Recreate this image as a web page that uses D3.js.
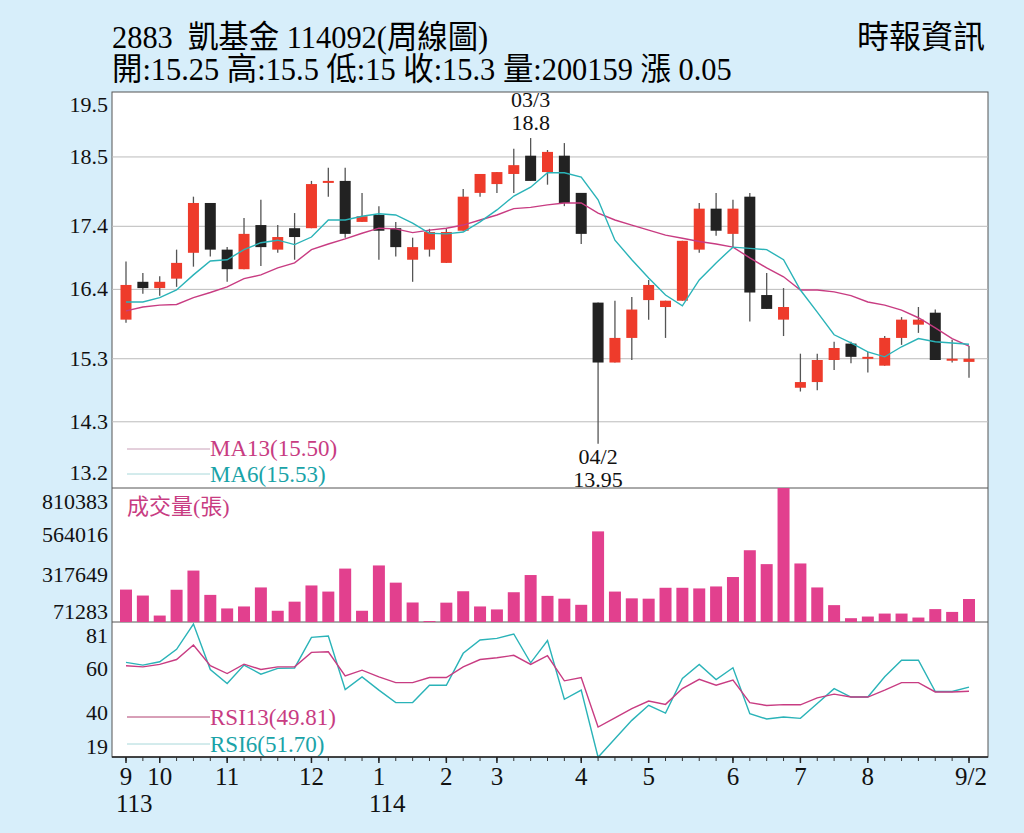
<!DOCTYPE html>
<html>
<head>
<meta charset="utf-8">
<script src="https://cdn.jsdelivr.net/npm/d3@7/dist/d3.min.js"></script>
<style>
  body { margin: 0; background: #d7eefa; }
  text { font-family: "Liberation Serif", "Noto Sans CJK TC", serif; }
</style>
</head>
<body>
<svg id="chart" width="1024" height="833"></svg>
<script>
// weekly candles: open, high, low, close
const opens  = [15.92,16.52,16.42,16.57,16.98,17.77,17.03,16.72,17.42,17.03,17.37,17.37,18.09,18.12,17.47,17.58,17.37,16.87,17.03,16.82,17.33,17.93,18.07,18.23,18.52,18.26,18.52,17.93,16.19,15.24,15.63,16.23,16.12,16.22,17.03,17.68,17.28,17.87,16.31,15.92,14.84,14.93,15.28,15.54,15.33,15.19,15.63,15.84,16.03,15.30,15.25]
const highs  = [16.84,16.66,16.61,17.03,17.87,17.77,17.07,17.53,17.82,17.42,17.61,18.12,18.33,18.33,17.93,17.72,17.47,17.22,17.36,17.36,17.99,18.23,18.26,18.63,18.80,18.61,18.72,17.93,16.19,16.22,16.28,16.55,16.22,17.17,17.77,17.93,17.82,17.93,16.66,16.42,15.38,15.38,15.57,15.57,15.41,15.66,15.96,16.12,16.08,15.60,15.50]
const lows   = [15.87,16.33,16.30,16.44,16.76,16.92,16.52,16.72,16.77,16.98,16.87,17.37,17.87,17.22,17.47,16.87,16.92,16.52,16.92,16.82,17.33,17.87,17.93,17.93,18.12,18.06,17.72,17.12,13.95,15.24,15.28,15.92,15.63,16.22,16.98,17.25,17.07,15.89,16.09,15.66,14.78,14.80,15.12,15.23,15.08,15.19,15.52,15.71,15.28,15.24,15.00]
const closes = [16.47,16.42,16.52,16.82,17.77,17.03,16.72,17.28,17.07,17.23,17.23,18.07,18.12,17.28,17.56,17.33,17.07,17.07,17.31,17.31,17.87,18.23,18.26,18.37,18.12,18.58,17.77,17.28,15.24,15.63,16.08,16.47,16.22,17.17,17.68,17.33,17.68,16.35,16.09,16.12,14.93,15.28,15.47,15.33,15.33,15.63,15.92,15.92,15.28,15.30,15.30]
const ma13 = [16.06,16.12,16.15,16.16,16.27,16.35,16.44,16.57,16.63,16.74,16.82,17.03,17.12,17.20,17.29,17.37,17.36,17.30,17.34,17.37,17.42,17.50,17.58,17.68,17.70,17.74,17.77,17.77,17.61,17.50,17.42,17.34,17.26,17.21,17.16,17.12,17.07,16.90,16.74,16.60,16.39,16.39,16.36,16.30,16.20,16.15,16.07,15.95,15.79,15.62,15.50]
const ma6  = [16.20,16.20,16.27,16.39,16.63,16.85,16.87,17.03,17.14,17.18,17.11,17.23,17.50,17.50,17.56,17.60,17.58,17.45,17.29,17.28,17.31,17.47,17.66,17.88,18.02,18.25,18.25,18.18,17.82,17.18,16.87,16.58,16.31,16.14,16.55,16.82,17.07,17.05,17.03,16.87,16.39,16.04,15.68,15.55,15.41,15.33,15.49,15.62,15.57,15.55,15.53]
const volumes = [196000,160000,39000,195000,311000,164000,82000,94000,209000,68000,123000,221000,184000,323000,68000,342000,238000,118000,6000,117000,186000,94000,76000,180000,284000,158000,141000,104000,548000,184000,143000,141000,207000,207000,203000,215000,272000,434000,350000,810383,354000,209000,102000,23000,33000,51000,51000,27000,78000,61000,139000]
const rsi13 = [61.3,60.8,61.9,64.1,70.6,61.3,57.8,62.0,59.6,60.8,60.8,67.3,67.6,56.7,59.3,56.3,53.7,53.7,56.0,56.0,60.8,64.1,64.9,66.0,61.9,65.8,54.5,56.0,33.7,37.8,42.0,45.4,43.9,51.0,55.2,52.5,54.8,44.7,43.4,43.8,43.7,46.8,48.5,47.2,47.2,50.3,53.7,53.7,49.5,49.5,49.81]
const rsi6  = [62.8,61.6,63.1,68.7,80.1,59.6,53.3,61.6,57.5,60.1,60.3,74.1,74.7,50.6,56.3,50.3,44.7,44.7,52.5,52.5,66.9,72.9,73.6,75.6,62.6,72.6,46.2,50.3,20.1,28.4,36.7,43.5,40.0,55.6,61.9,55.1,60.4,39.7,37.3,38.2,37.6,44.3,51.0,47.2,47.2,56.3,63.8,63.8,49.7,49.7,51.7]

const priceTicks = [18.5, 17.4, 16.4, 15.3, 14.3]
const priceEdgeLabels = ["19.5", "13.2"]
const volTicks = [810383, 564016, 317649, 71283]
const rsiTicks = [81, 60, 40, 19]
const monthLabels = [
  {i: 0, t: "9", y2: "113"}, {i: 2, t: "10"}, {i: 6, t: "11"}, {i: 11, t: "12"},
  {i: 15, t: "1", y2: "114"}, {i: 19, t: "2"}, {i: 22, t: "3"}, {i: 27, t: "4"},
  {i: 31, t: "5"}, {i: 36, t: "6"}, {i: 40, t: "7"}, {i: 44, t: "8"}, {i: 50, t: "9/2"}
]

const svg = d3.select("#chart")
const left = 112, right = 988
const red = "#ee3b2b", black = "#222", magenta = "#c83c82", cyan = "#2ab3b8"

const x = d3.scaleLinear().domain([0, 50]).range([126, 969])
const y = d3.scaleLinear().domain([13.25, 19.53]).range([488, 92])
const yv = d3.scaleLinear().domain([0, 810383]).range([622, 488])
const yr = d3.scaleLinear().domain([20.2, 81]).range([757, 622])

// title
svg.append("text").attr("x", 112).attr("y", 48).attr("font-size", 32)
  .attr("transform", "translate(112,0) scale(0.95,1) translate(-112,0)")
  .text("2883\u00a0\u00a0凱基金 114092(周線圖)")
svg.append("text").attr("x", 112).attr("y", 80).attr("font-size", 32)
  .attr("transform", "translate(112,0) scale(0.95,1) translate(-112,0)")
  .text("開:15.25 高:15.5 低:15 收:15.3 量:200159 漲 0.05")
svg.append("text").attr("x", 985).attr("y", 48).attr("font-size", 32)
  .attr("text-anchor", "end")
  .text("時報資訊")

// panels
svg.append("rect").attr("x", left).attr("y", 92).attr("width", right - left).attr("height", 665)
  .attr("fill", "#fff").attr("stroke", "#555").attr("stroke-width", 1)
svg.append("line").attr("x1", left).attr("x2", right).attr("y1", 488).attr("y2", 488).attr("stroke", "#555")
svg.append("line").attr("x1", left).attr("x2", right).attr("y1", 622).attr("y2", 622).attr("stroke", "#555")

const ax = svg.append("g").attr("font-size", 22).attr("fill", "#111")

// price grid
svg.selectAll(".pg").data(priceTicks).enter().append("line")
  .attr("x1", left).attr("x2", right).attr("y1", d => y(d)).attr("y2", d => y(d))
  .attr("stroke", "#bbb")
ax.selectAll(".pt").data(priceTicks).enter().append("text")
  .attr("x", 108).attr("y", d => y(d) + 7).attr("text-anchor", "end").text(d => d.toFixed(1))
ax.append("text").attr("x", 108).attr("y", 112).attr("text-anchor", "end").text(priceEdgeLabels[0])
ax.append("text").attr("x", 108).attr("y", 480).attr("text-anchor", "end").text(priceEdgeLabels[1])

ax.selectAll(".vt").data(volTicks).enter().append("text")
  .attr("x", 108).attr("y", (d, i) => yv(d) + [21, 13, 13, 9][i]).attr("text-anchor", "end").text(d => d)
ax.selectAll(".rt").data(rsiTicks).enter().append("text")
  .attr("x", 108).attr("y", (d, i) => yr(d) + [21, 7, 7, -6][i]).attr("text-anchor", "end").text(d => d)

// candles
const bw = 11
const c = svg.append("g").selectAll("g").data(closes).enter().append("g")
c.append("line")
  .attr("x1", (d, i) => x(i)).attr("x2", (d, i) => x(i))
  .attr("y1", (d, i) => y(highs[i])).attr("y2", (d, i) => y(lows[i]))
  .attr("stroke", "#555").attr("stroke-width", 1.3)
c.append("rect")
  .attr("x", (d, i) => x(i) - bw / 2).attr("width", bw)
  .attr("y", (d, i) => y(Math.max(d, opens[i])))
  .attr("height", (d, i) => Math.max(2, Math.abs(y(d) - y(opens[i]))))
  .attr("fill", (d, i) => d >= opens[i] ? red : black)

const line = (s, yy) => d3.line().x((d, i) => x(i)).y(d => yy(d))(s)
svg.append("path").attr("d", line(ma13, y)).attr("fill", "none").attr("stroke", magenta).attr("stroke-width", 1.4)
svg.append("path").attr("d", line(ma6, y)).attr("fill", "none").attr("stroke", cyan).attr("stroke-width", 1.4)

// annotations
const ann = svg.append("g").attr("font-size", 22).attr("text-anchor", "middle").attr("fill", "#111")
ann.append("text").attr("x", x(24)).attr("y", 107).text("03/3")
ann.append("text").attr("x", x(24)).attr("y", 130).text("18.8")
ann.append("text").attr("x", x(28)).attr("y", 464).text("04/2")
ann.append("text").attr("x", x(28)).attr("y", 487).text("13.95")

// legends
const lg = svg.append("g").attr("font-size", 23)
lg.append("line").attr("x1", 127).attr("x2", 210).attr("y1", 449).attr("y2", 449).attr("stroke", "#c9a0b8")
lg.append("text").attr("x", 210).attr("y", 456).attr("fill", magenta).text("MA13(15.50)")
lg.append("line").attr("x1", 127).attr("x2", 210).attr("y1", 474).attr("y2", 474).attr("stroke", "#a8d8da")
lg.append("text").attr("x", 210).attr("y", 482).attr("fill", "#1aa3a8").text("MA6(15.53)")
lg.append("line").attr("x1", 127).attr("x2", 210).attr("y1", 717).attr("y2", 717).attr("stroke", "#b04070")
lg.append("text").attr("x", 210).attr("y", 725).attr("fill", magenta).text("RSI13(49.81)")
lg.append("line").attr("x1", 127).attr("x2", 210).attr("y1", 744).attr("y2", 744).attr("stroke", "#a8d8da")
lg.append("text").attr("x", 210).attr("y", 752).attr("fill", "#1aa3a8").text("RSI6(51.70)")

// volume
svg.append("g").selectAll("rect").data(volumes).enter().append("rect")
  .attr("x", (d, i) => x(i) - 6).attr("width", 12)
  .attr("y", d => yv(d)).attr("height", d => 622 - yv(d))
  .attr("fill", "#e2408e")
svg.append("text").attr("x", 127).attr("y", 514).attr("font-size", 22).attr("fill", magenta).text("成交量(張)")

// rsi
svg.append("path").attr("d", line(rsi6, yr)).attr("fill", "none").attr("stroke", cyan).attr("stroke-width", 1.4)
svg.append("path").attr("d", line(rsi13, yr)).attr("fill", "none").attr("stroke", magenta).attr("stroke-width", 1.4)

// x axis ticks
svg.append("line").attr("x1", left).attr("x2", right).attr("y1", 757).attr("y2", 757).attr("stroke", "#222").attr("stroke-width", 1.5)
svg.append("g").selectAll("line").data(closes).enter().append("line")
  .attr("x1", (d, i) => x(i)).attr("x2", (d, i) => x(i)).attr("y1", 757).attr("y2", 761).attr("stroke", "#333")
svg.append("g").selectAll("line").data(monthLabels).enter().append("line")
  .attr("x1", d => x(d.i)).attr("x2", d => x(d.i)).attr("y1", 757).attr("y2", 763).attr("stroke", "#222").attr("stroke-width", 1.5)
const xl = svg.append("g").attr("font-size", 25).attr("fill", "#111")
xl.selectAll(".m").data(monthLabels).enter().append("text")
  .attr("x", d => d.i === 50 ? x(d.i) + 2 : x(d.i)).attr("y", 785)
  .attr("text-anchor", "middle").text(d => d.t)
xl.selectAll(".yr").data(monthLabels.filter(d => d.y2)).enter().append("text")
  .attr("x", d => x(d.i) - 10).attr("y", 812).text(d => d.y2)
</script>
</body>
</html>
